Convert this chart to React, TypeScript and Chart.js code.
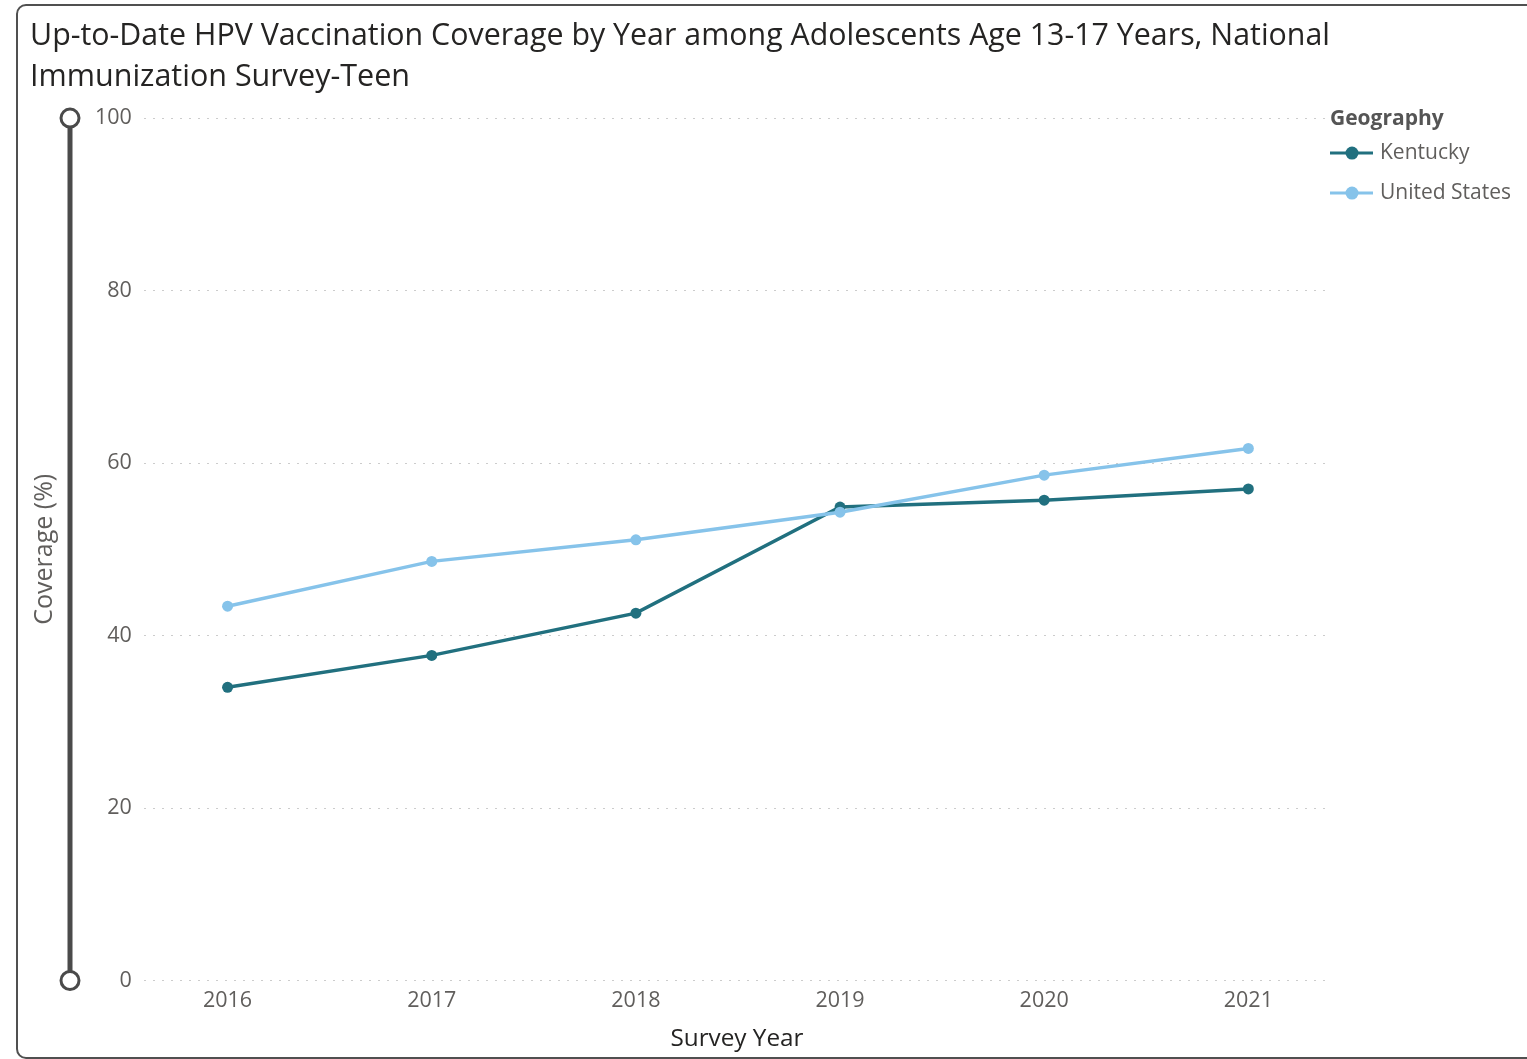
import React, { useEffect, useRef } from 'react';
import { Chart, registerables } from 'chart.js';

Chart.register(...registerables);

const years = [2016, 2017, 2018, 2019, 2020, 2021];
const kentucky = [34.0, 37.7, 42.6, 54.9, 55.7, 57.0];
const unitedStates = [43.4, 48.6, 51.1, 54.3, 58.6, 61.7];
const seriesNames = ['Kentucky', 'United States'];
const titleLines = [
  'Up-to-Date HPV Vaccination Coverage by Year among Adolescents Age 13-17 Years, National',
  'Immunization Survey-Teen',
];
const xTitle = 'Survey Year';
const yTitle = 'Coverage (%)';
const legendTitle = 'Geography';

const FONT = "'Open Sans', 'Noto Sans', sans-serif";
const KY_COLOR = '#21707F';
const US_COLOR = '#86C3EA';
const TEXT_DARK = '#252423';
const TEXT_GREY = '#605E5C';

const sliderPlugin = {
  id: 'ySlider',
  afterDraw(chart: any) {
    const { ctx } = chart;
    const ys = chart.scales.y;
    const x = ys.left + 40;
    const top = ys.top;
    const bottom = ys.bottom;
    const r = 9;
    ctx.save();
    ctx.strokeStyle = '#4a4a4a';
    ctx.lineWidth = 5;
    ctx.beginPath();
    ctx.moveTo(x, top + r);
    ctx.lineTo(x, bottom - r);
    ctx.stroke();
    ctx.lineWidth = 3;
    ctx.fillStyle = '#ffffff';
    for (const cy of [top, bottom]) {
      ctx.beginPath();
      ctx.arc(x, cy, r, 0, Math.PI * 2);
      ctx.fill();
      ctx.stroke();
    }
    ctx.restore();
  },
};

const legendPlugin = {
  id: 'geoLegend',
  afterDraw(chart: any) {
    const { ctx, chartArea } = chart;
    const x0 = chartArea.right;
    const y0 = chartArea.top;
    ctx.save();
    ctx.textAlign = 'left';
    ctx.textBaseline = 'middle';
    ctx.font = `bold 21px ${FONT}`;
    ctx.fillStyle = '#555555';
    ctx.fillText(legendTitle, x0, y0 + 1);
    ctx.font = `21px ${FONT}`;
    chart.data.datasets.forEach((ds: any, i: number) => {
      const cy = y0 + 35 + i * 40;
      ctx.strokeStyle = ds.borderColor;
      ctx.fillStyle = ds.borderColor;
      ctx.lineWidth = 3;
      ctx.beginPath();
      ctx.moveTo(x0, cy);
      ctx.lineTo(x0 + 43, cy);
      ctx.stroke();
      ctx.beginPath();
      ctx.arc(x0 + 22, cy, 6.5, 0, Math.PI * 2);
      ctx.fill();
      ctx.fillStyle = TEXT_GREY;
      ctx.fillText(ds.label, x0 + 50, cy);
    });
    ctx.restore();
  },
};

export default function App() {
  const ref = useRef<HTMLCanvasElement>(null);

  useEffect(() => {
    if (!ref.current) return;
    const colors = [KY_COLOR, US_COLOR];
    const seriesValues = [kentucky, unitedStates];
    const chart = new Chart(ref.current, {
      type: 'line',
      data: {
        datasets: seriesNames.map((name, i) => ({
          label: name,
          data: years.map((yr, j) => ({ x: yr, y: seriesValues[i][j] })),
          borderColor: colors[i],
          backgroundColor: colors[i],
          borderWidth: 3.5,
          pointRadius: 5.5,
          pointHoverRadius: 5.5,
          pointBorderWidth: 0,
          tension: 0,
          order: i === 0 ? 2 : 1,
        })),
      },
      options: {
        animation: false,
        responsive: false,
        layout: { padding: { left: 30, top: 15, right: 197, bottom: 5.5 } },
        plugins: {
          tooltip: { enabled: false },
          legend: { display: false },
          title: {
            display: true,
            text: titleLines,
            align: 'start',
            color: TEXT_DARK,
            font: { family: FONT, size: 30.5, weight: 'normal', lineHeight: 1.37 },
            padding: { top: 0, bottom: 19.5 },
          },
        },
        scales: {
          x: {
            type: 'linear',
            min: 2015.59,
            max: 2021.4,
            afterBuildTicks: (axis: any) => {
              axis.ticks = years.map((v) => ({ value: v }));
            },
            ticks: {
              callback: (v: any) => String(v),
              color: TEXT_GREY,
              font: { family: FONT, size: 21.5 },
              padding: 7,
              maxRotation: 0,
              autoSkip: false,
            },
            grid: { display: false, drawTicks: false },
            border: { display: false },
            title: {
              display: true,
              text: xTitle,
              color: TEXT_DARK,
              font: { family: FONT, size: 24.3 },
              padding: { top: 4, bottom: 0 },
            },
          },
          y: {
            min: 0,
            max: 100,
            ticks: {
              stepSize: 20,
              color: TEXT_GREY,
              font: { family: FONT, size: 21.5 },
              padding: 12,
            },
            grid: { color: '#cccccc', lineWidth: 1, drawTicks: false },
            border: { display: false, dash: [2, 7] },
            title: {
              display: true,
              text: yTitle,
              color: TEXT_GREY,
              font: { family: FONT, size: 25 },
              padding: { top: 0, bottom: 23 },
            },
          },
        },
      } as any,
      plugins: [sliderPlugin, legendPlugin],
    });
    return () => chart.destroy();
  }, []);

  return (
    <div
      style={{
        position: 'fixed',
        left: 0,
        top: 0,
        width: 1527,
        height: 1059,
        overflow: 'hidden',
        background: '#ffffff',
      }}
    >
      <div
        style={{
          position: 'absolute',
          left: 16,
          top: 4,
          width: 1540,
          height: 1051,
          border: '2px solid #505050',
          borderRadius: 10,
        }}
      />
      <canvas
        ref={ref}
        width={1527}
        height={1059}
        style={{ position: 'absolute', left: 0, top: 0 }}
      />
    </div>
  );
}
